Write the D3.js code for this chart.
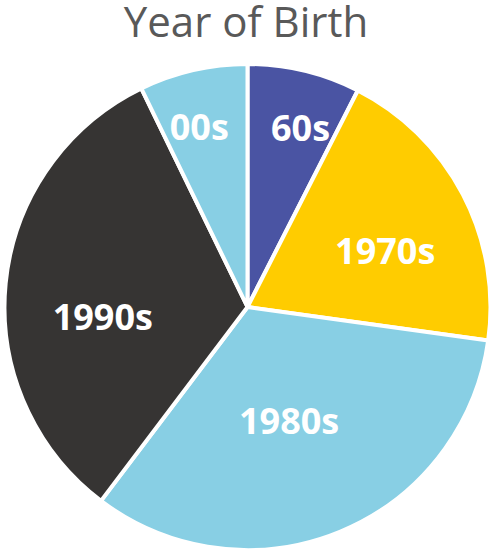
<!DOCTYPE html>
<html>
<head>
<meta charset="utf-8">
<script src="https://cdn.jsdelivr.net/npm/d3@7"></script>
<style>
  html, body { margin: 0; padding: 0; background: #ffffff; }
  svg { display: block; }
</style>
</head>
<body>
<svg id="chart" width="492" height="552"></svg>
<script>
const categories = ["60s", "1970s", "1980s", "1990s", "00s"];
const values = [7.5, 19.7, 33.1, 32.5, 7.2];
const colors = ["#4A54A3", "#FFCC00", "#88CFE4", "#363433", "#88CFE4"];
const title = "Year of Birth";

const W = 492, H = 552;
const cx = 247.5, cy = 307, R = 243;
const svg = d3.select("#chart");

svg.append("text")
  .attr("x", W / 2)
  .attr("y", 37)
  .attr("text-anchor", "middle")
  .attr("font-family", "'Open Sans', sans-serif")
  .attr("font-size", 42)
  .attr("fill", "#595959")
  .text(title);

const data = categories.map((c, i) => ({ cat: c, value: values[i], color: colors[i] }));
const pie = d3.pie().value(d => d.value).sort(null);
const arcs = pie(data);
const arc = d3.arc().innerRadius(0).outerRadius(R);

const g = svg.append("g").attr("transform", `translate(${cx},${cy})`);
g.selectAll("path").data(arcs).join("path")
  .attr("d", arc)
  .attr("fill", d => d.data.color)
  .attr("stroke", "#ffffff")
  .attr("stroke-width", 4)
  .attr("stroke-linejoin", "round");

// "best fit" label placement: [fraction along slice angle, fraction of radius]
const labelFit = [[0.61, 0.77], [0.575, 0.612], [0.52, 0.498], [0.42, 0.597], [0.42, 0.765]];
function labelPos(d, i) {
  const [t, f] = labelFit[i];
  const a = d.startAngle + (d.endAngle - d.startAngle) * t;
  return [Math.sin(a) * R * f, -Math.cos(a) * R * f];
}

g.selectAll("text.lbl").data(arcs).join("text")
  .attr("class", "lbl")
  .attr("transform", (d, i) => `translate(${labelPos(d, i)})`)
  .attr("text-anchor", "middle")
  .attr("dy", "0.36em")
  .attr("font-family", "'Open Sans', sans-serif")
  .attr("font-weight", "bold")
  .attr("font-size", 36)
  .attr("fill", "#ffffff")
  .text(d => d.data.cat);
</script>
</body>
</html>
